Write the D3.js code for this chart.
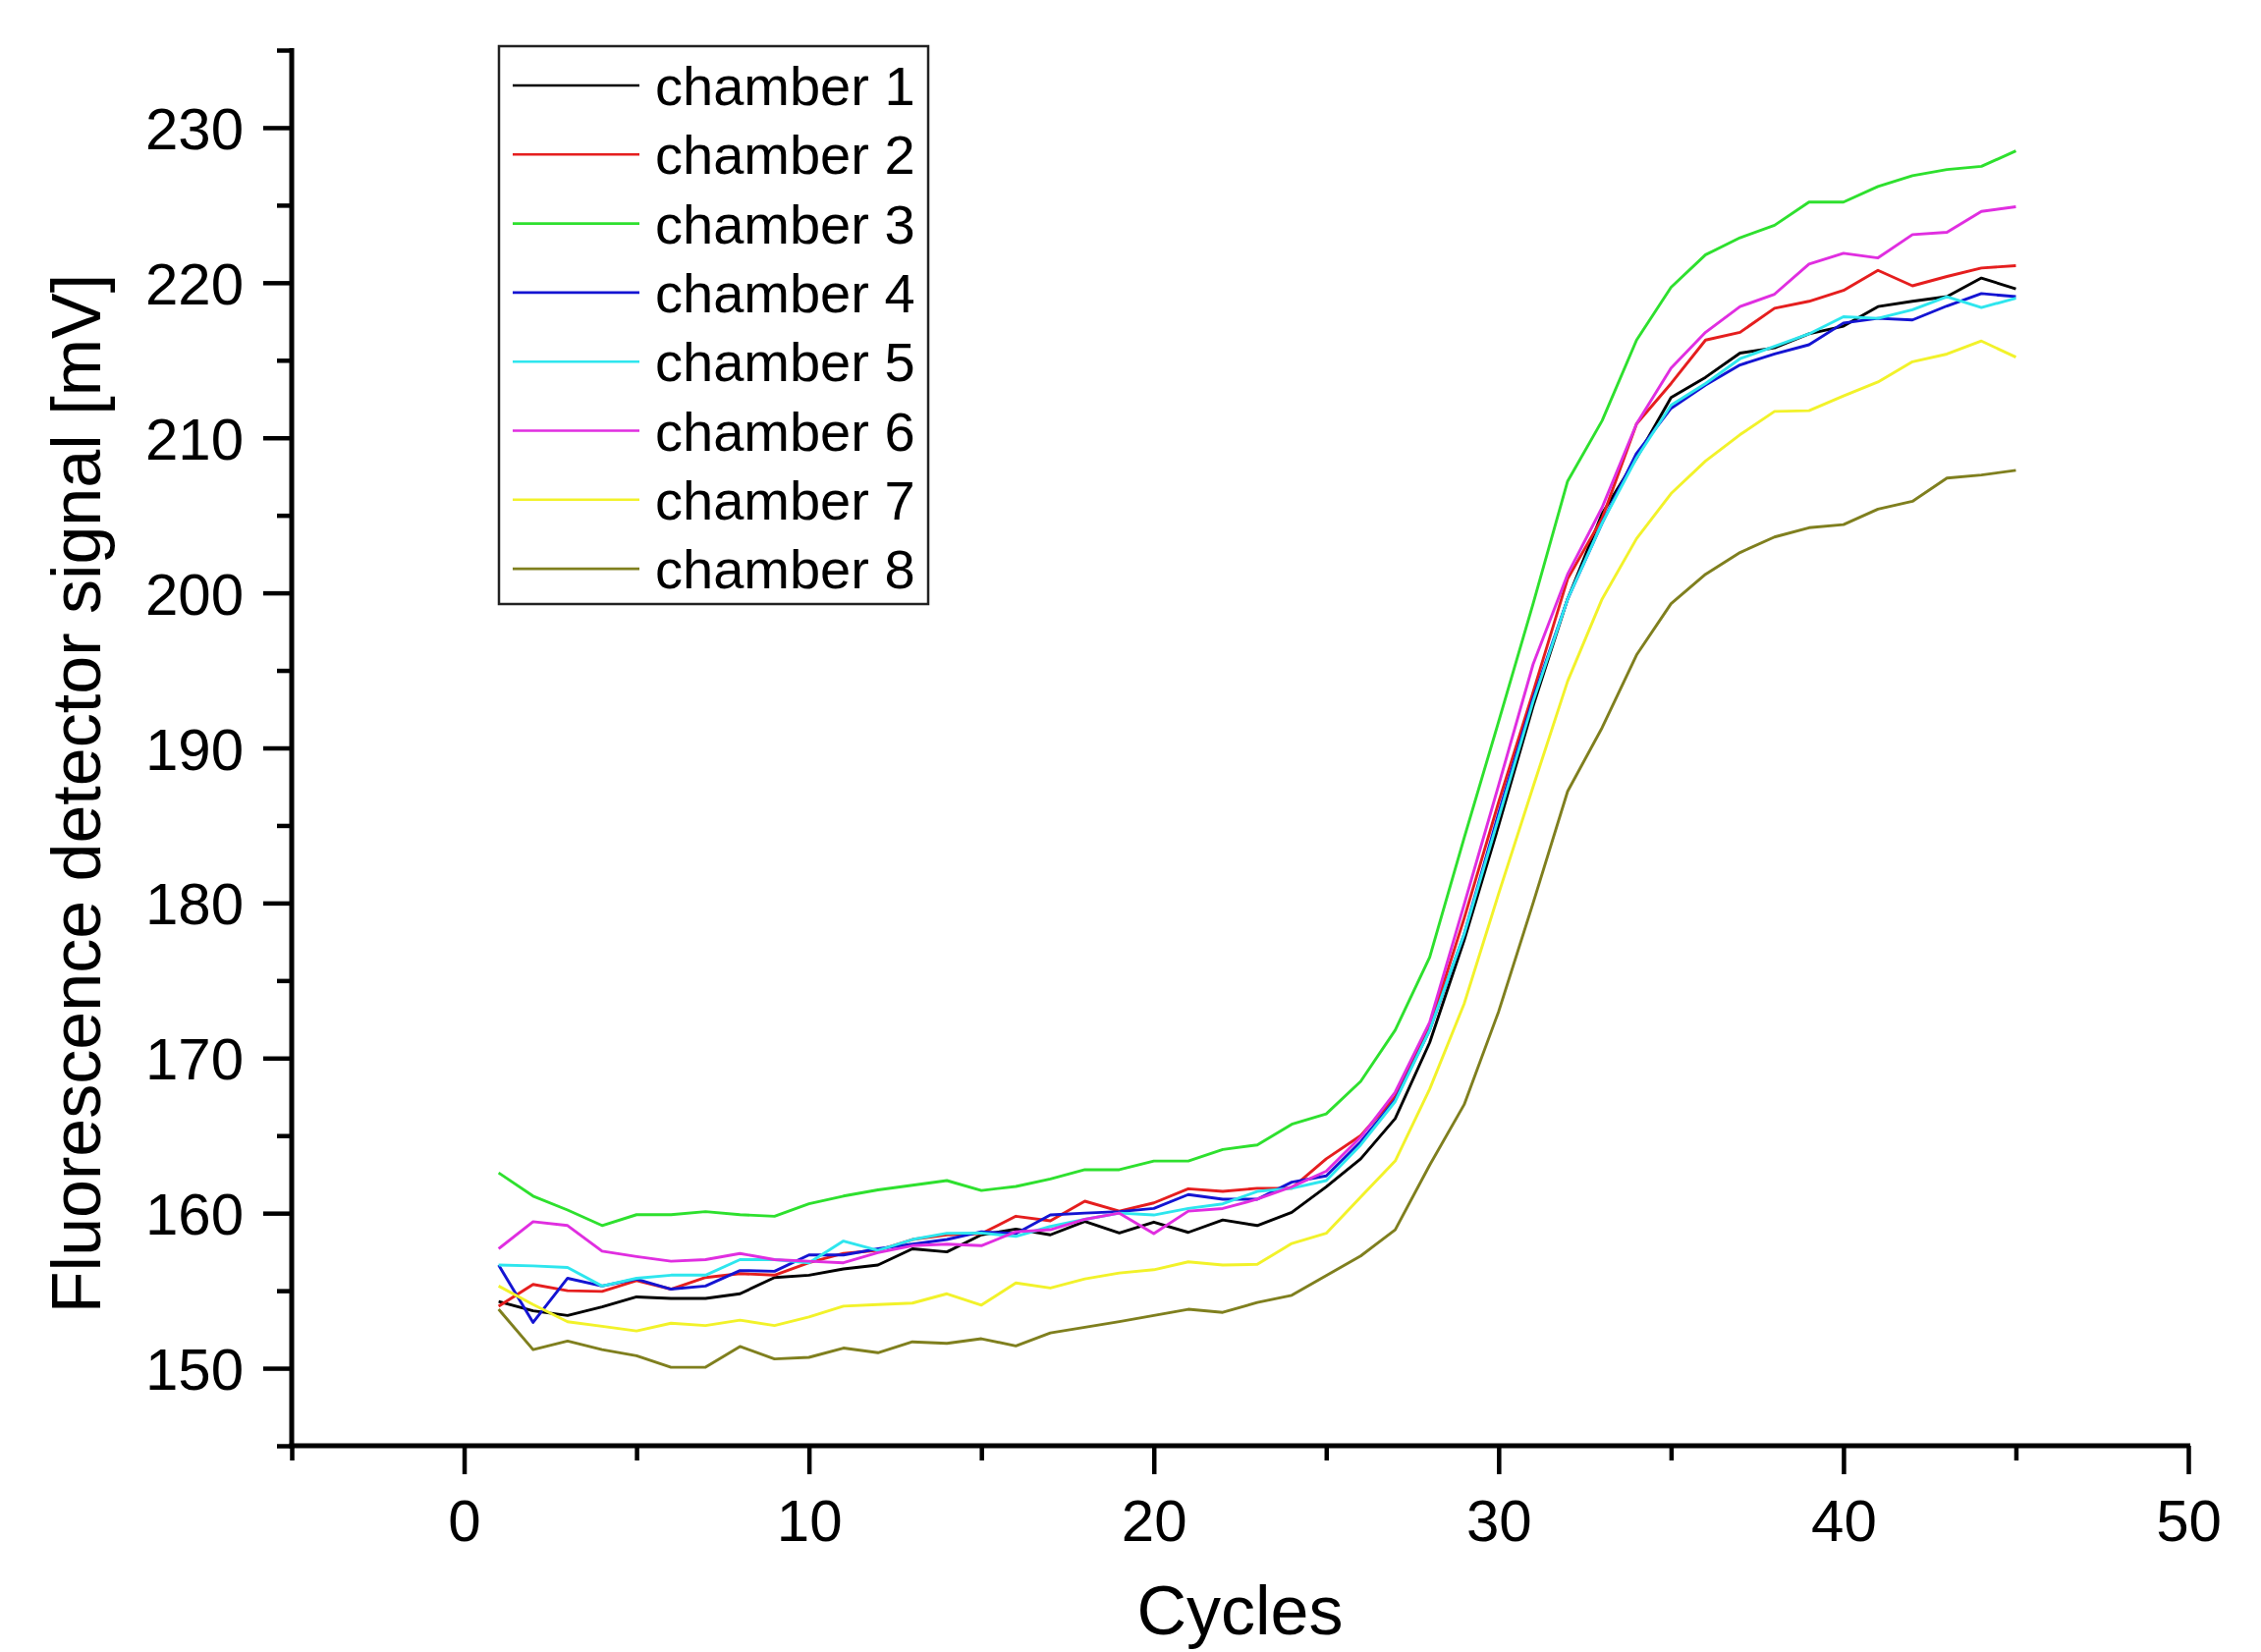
<!DOCTYPE html>
<html><head><meta charset="utf-8">
<script src="https://cdn.jsdelivr.net/npm/d3@7"></script>
<style>
body{margin:0;background:#fff;}
svg{display:block;}
text{font-family:"Liberation Sans",Arial,sans-serif;fill:#000;}
</style>
</head><body>
<svg id="chart" width="2302" height="1682"></svg>
<script>
const cycles = [1,2,3,4,5,6,7,8,9,10,11,12,13,14,15,16,17,18,19,20,21,22,23,24,25,26,27,28,29,30,31,32,33,34,35,36,37,38,39,40,41,42,43,44,45];

const chamber1 = [154.3,153.7,153.4,153.95,154.6,154.5,154.5,154.8,155.85,156.0,156.4,156.65,157.7,157.5,158.6,158.97,158.6,159.46,158.72,159.42,158.76,159.56,159.2,160.05,161.7,163.5,166.1,171.0,177.6,185.0,192.7,199.6,205.1,208.7,212.6,213.9,215.46,215.8,216.7,217.2,218.46,218.8,219.1,220.3,219.6];
const chamber2 = [154.0,155.4,155.0,154.95,155.65,155.1,155.85,156.1,156.0,156.8,157.4,157.6,158.3,158.6,158.68,159.8,159.5,160.77,160.13,160.66,161.57,161.4,161.6,161.6,163.5,165.0,167.5,172.0,179.0,186.5,193.6,200.9,204.8,210.9,213.5,216.3,216.8,218.35,218.8,219.5,220.8,219.8,220.4,220.95,221.1];
const chamber3 = [162.6,161.1,160.2,159.2,159.9,159.9,160.1,159.9,159.8,160.6,161.1,161.5,161.8,162.1,161.46,161.72,162.2,162.8,162.8,163.36,163.36,164.1,164.4,165.73,166.4,168.5,171.8,176.5,184.2,191.7,199.3,207.2,211.1,216.3,219.7,221.8,222.9,223.7,225.2,225.2,226.2,226.9,227.3,227.5,228.5];
const chamber4 = [156.65,152.95,155.8,155.3,155.75,155.1,155.3,156.3,156.25,157.3,157.3,157.7,158.0,158.3,158.8,158.68,159.88,160.0,160.1,160.3,161.2,160.9,160.9,162.0,162.4,164.6,167.3,171.8,178.0,185.8,193.2,199.6,204.5,209.0,211.9,213.4,214.7,215.4,216.0,217.4,217.7,217.6,218.5,219.3,219.1];
const chamber5 = [156.65,156.6,156.5,155.3,155.8,156.0,156.0,157.0,157.0,156.8,158.2,157.6,158.3,158.7,158.72,158.5,159.14,159.6,160.0,159.88,160.3,160.6,161.4,161.6,162.1,164.4,167.2,171.8,178.0,185.5,193.0,199.6,204.5,208.7,212.1,213.5,215.1,215.9,216.7,217.8,217.7,218.25,219.1,218.4,219.0];
const chamber6 = [157.7,159.45,159.2,157.55,157.2,156.9,157.0,157.4,157.0,156.9,156.8,157.45,157.9,158.0,157.9,158.8,158.93,159.6,160.0,158.68,160.13,160.3,160.9,161.7,162.7,164.9,167.8,172.3,179.9,187.6,195.4,201.2,205.5,210.9,214.5,216.8,218.46,219.26,221.2,221.9,221.6,223.1,223.25,224.6,224.9];
const chamber7 = [155.3,154.1,153.0,152.7,152.4,152.9,152.75,153.1,152.75,153.3,154.0,154.1,154.2,154.8,154.07,155.5,155.17,155.76,156.14,156.35,156.86,156.65,156.7,158.04,158.7,161.04,163.36,168.0,173.5,180.6,187.5,194.3,199.6,203.5,206.4,208.5,210.2,211.7,211.75,212.7,213.6,214.9,215.4,216.24,215.2];
const chamber8 = [153.8,151.2,151.75,151.2,150.8,150.06,150.06,151.4,150.6,150.7,151.3,151.0,151.7,151.6,151.9,151.44,152.28,152.64,153.0,153.4,153.8,153.6,154.24,154.7,155.98,157.24,158.93,163.1,167.0,173.0,180.0,187.2,191.3,196.0,199.3,201.2,202.6,203.6,204.2,204.4,205.4,205.9,207.4,207.6,207.9];

const seriesNames = ["chamber 1","chamber 2","chamber 3","chamber 4","chamber 5","chamber 6","chamber 7","chamber 8"];
const seriesValues = [chamber1,chamber2,chamber3,chamber4,chamber5,chamber6,chamber7,chamber8];
const seriesColors = ["#000000","#e51e1e","#2ee02e","#1414d2","#2ee6ee","#e02ee0","#f2f22a","#7f7f1e"];

const xMajorTicks = [0,10,20,30,40,50];
const xMinorTicks = [-5,5,15,25,35,45];
const yMajorTicks = [150,160,170,180,190,200,210,220,230];
const yMinorTicks = [145,155,165,175,185,195,205,215,225,235];

const xTitle = "Cycles";
const yTitle = "Fluorescence detector signal [mV]";

const svg = d3.select("#chart");
const x = d3.scaleLinear().domain([-5,50]).range([297,2228]);
const y = d3.scaleLinear().domain([145,235]).range([1472,51]);

const tickFont = 60;

// lines
const line = d3.line().x((d,i)=>x(cycles[i])).y(d=>y(d));
const gLines = svg.append("g");
seriesValues.forEach((vals,k)=>{
  gLines.append("path").datum(vals).attr("d",line)
    .attr("fill","none").attr("stroke",seriesColors[k])
    .attr("stroke-width",2.9).attr("stroke-linejoin","round");
});

// axes
function styleAxis(g){
  g.select(".domain").remove();
  g.selectAll(".tick line").attr("stroke","#000").attr("stroke-width",4.5);
  g.selectAll(".tick text").attr("font-size",tickFont).attr("font-family","'Liberation Sans',Arial,sans-serif").attr("fill","#000");
}
const xAxisY = y(145);
const yAxisX = x(-5);

const gxMinor = svg.append("g").attr("transform",`translate(0,${xAxisY})`)
  .call(d3.axisBottom(x).tickValues(xMinorTicks).tickSize(15).tickSizeOuter(0).tickFormat(""));
styleAxis(gxMinor);
const gxMajor = svg.append("g").attr("transform",`translate(0,${xAxisY})`)
  .call(d3.axisBottom(x).tickValues(xMajorTicks).tickSize(29).tickSizeOuter(0).tickPadding(68).tickFormat(d3.format("d")));
styleAxis(gxMajor);
gxMajor.selectAll(".tick text").attr("dy","0");

const gyMinor = svg.append("g").attr("transform",`translate(${yAxisX},0)`)
  .call(d3.axisLeft(y).tickValues(yMinorTicks).tickSize(15).tickSizeOuter(0).tickFormat(""));
styleAxis(gyMinor);
const gyMajor = svg.append("g").attr("transform",`translate(${yAxisX},0)`)
  .call(d3.axisLeft(y).tickValues(yMajorTicks).tickSize(29).tickSizeOuter(0).tickPadding(20).tickFormat(d3.format("d")));
styleAxis(gyMajor);
gyMajor.selectAll(".tick text").attr("dy","0.36em");

// axis lines
svg.append("line").attr("x1",yAxisX).attr("x2",yAxisX).attr("y1",y(235)-2).attr("y2",xAxisY+2.5)
  .attr("stroke","#000").attr("stroke-width",5);
svg.append("line").attr("x1",yAxisX-2.5).attr("x2",x(50)+2).attr("y1",xAxisY).attr("y2",xAxisY)
  .attr("stroke","#000").attr("stroke-width",5);

// titles
svg.append("text").attr("x",(x(-5)+x(50))/2).attr("y",1664).attr("text-anchor","middle")
  .attr("font-size",70).text(xTitle);
svg.append("text").attr("transform","translate(102,808) rotate(-90)").attr("text-anchor","middle")
  .attr("font-size",70).text(yTitle);

// legend
const lg = svg.append("g");
lg.append("rect").attr("x",508).attr("y",47).attr("width",437).attr("height",568)
  .attr("fill","#fff").attr("stroke","#222").attr("stroke-width",2.5);
seriesNames.forEach((name,k)=>{
  const ly = 87 + k*70.3;
  lg.append("line").attr("x1",522).attr("x2",651).attr("y1",ly).attr("y2",ly)
    .attr("stroke",seriesColors[k]).attr("stroke-width",2.6);
  lg.append("text").attr("x",667).attr("y",ly+20).attr("font-size",56).text(name);
});
</script>
</body></html>
